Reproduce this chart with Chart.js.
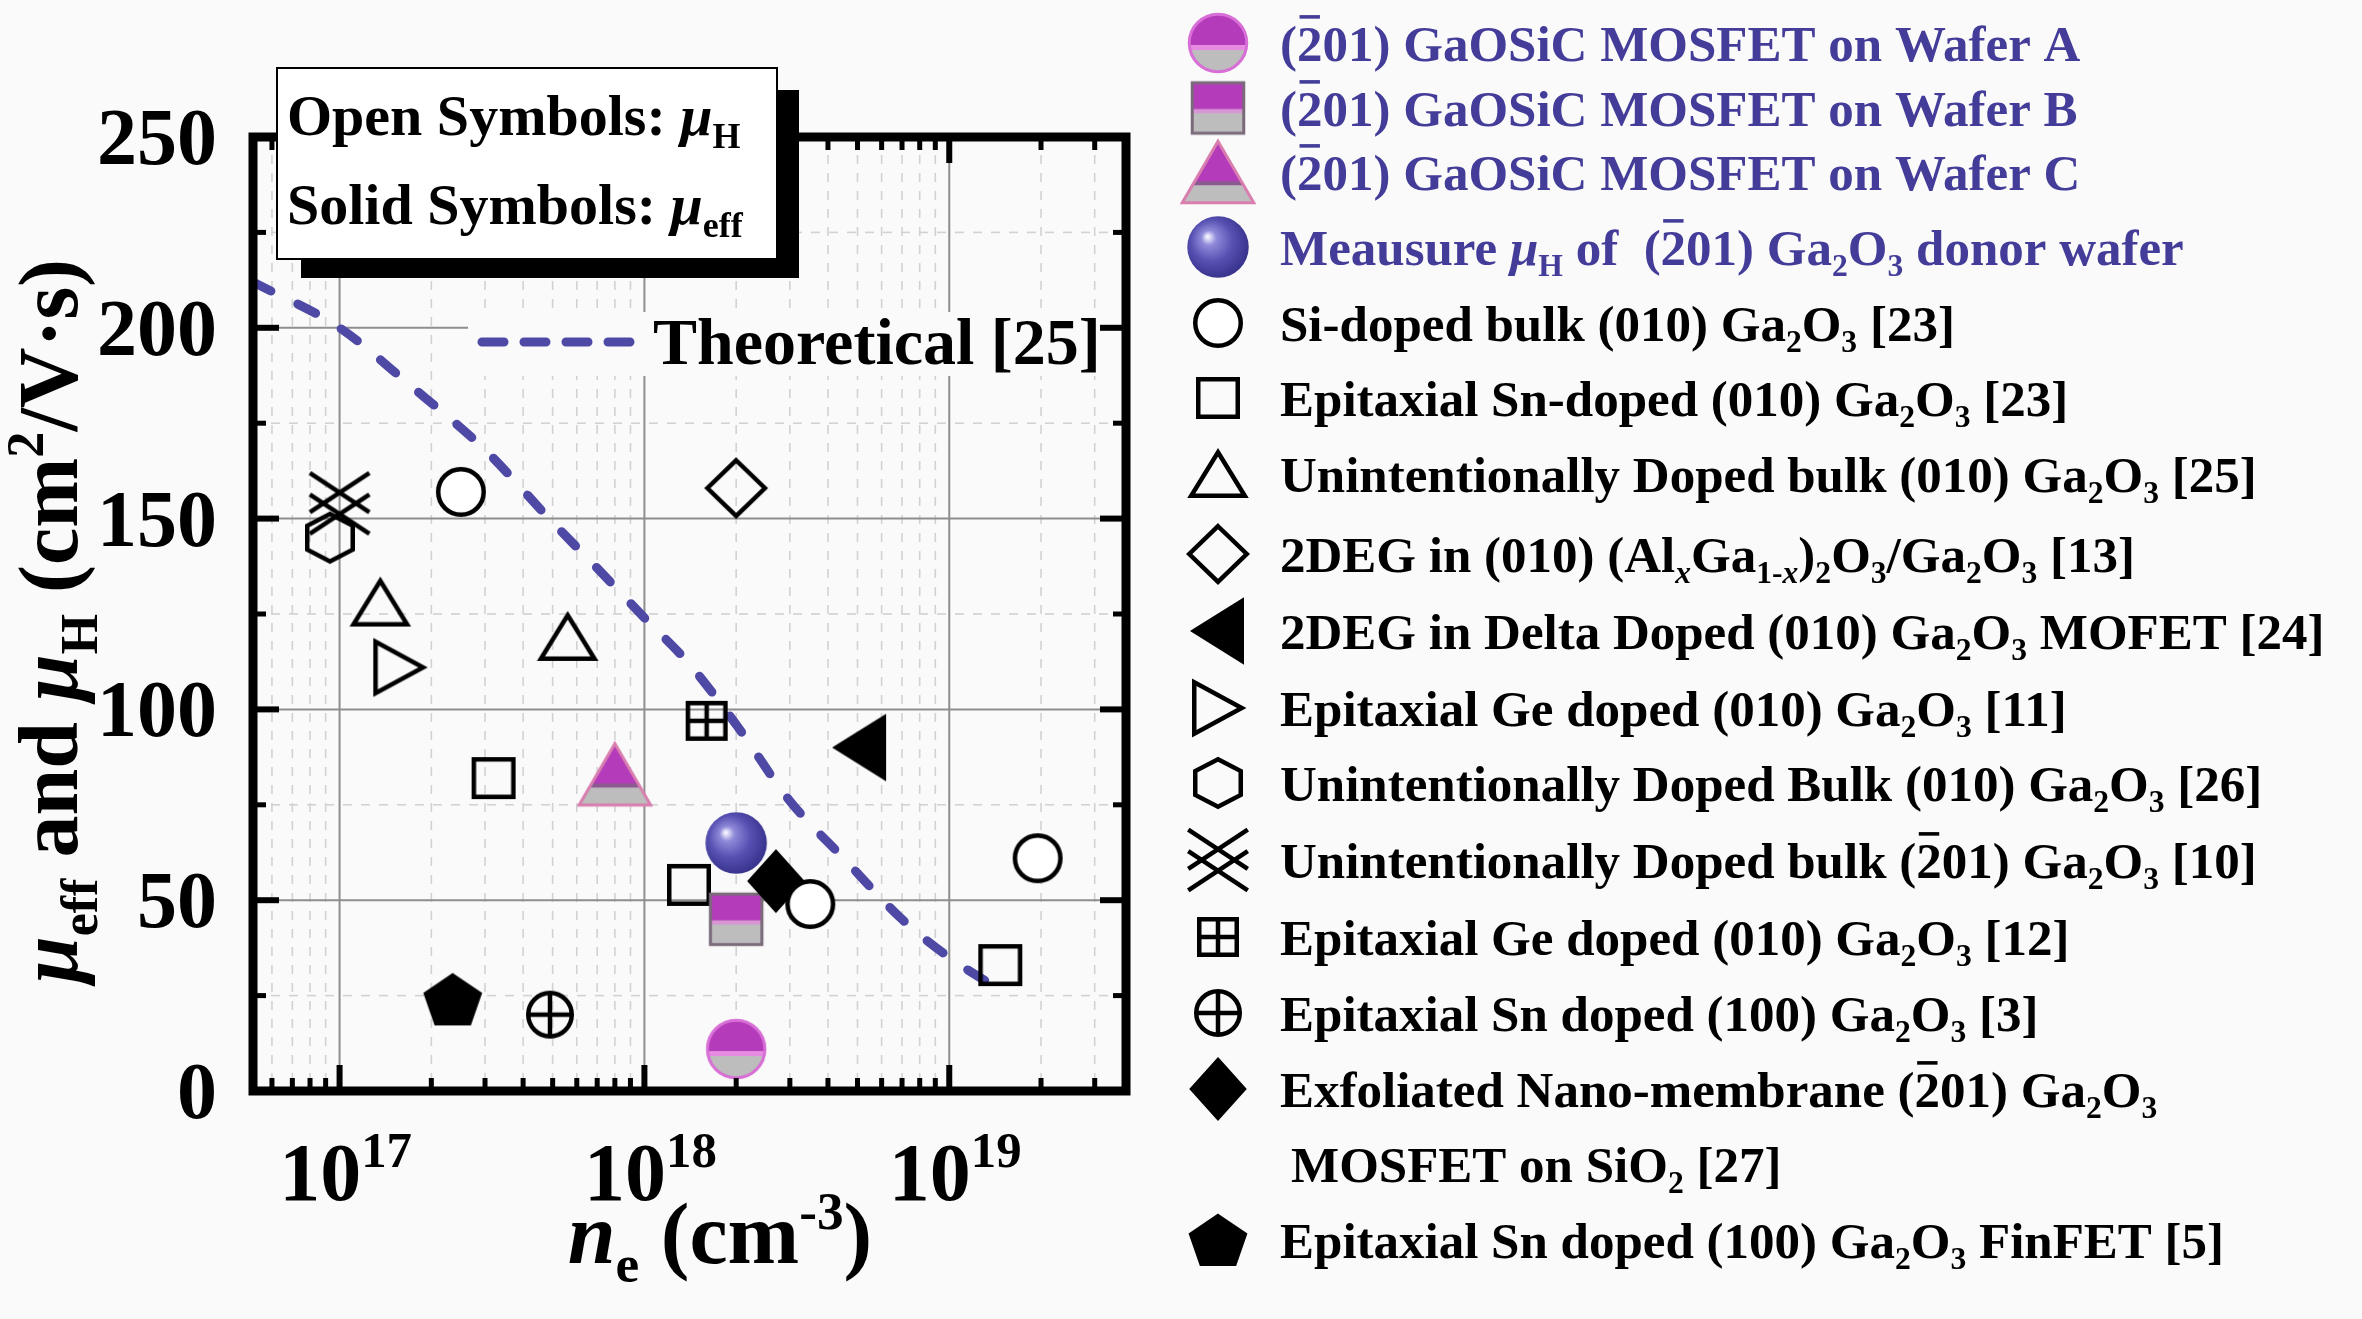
<!DOCTYPE html>
<html>
<head>
<meta charset="utf-8">
<script src="https://cdn.jsdelivr.net/npm/chart.js@4.4.1/dist/chart.umd.min.js"></script>
<style>
  html, body { margin: 0; background: #fafafa; }
  canvas { display: block; }
</style>
</head>
<body>
<canvas id="mobilityChart" width="2362" height="1319"></canvas>
<script>
// ---- data (n_e in cm^-3, mobility in cm^2/V.s) ----
const xTicks = [1e17, 1e18, 1e19];
const xTickExp = ['17', '18', '19'];
const yTicks = [0, 50, 100, 150, 200, 250];

const theoryN  = [5.2e16, 1e17, 1.7e17, 3e17, 5e17, 7e17, 1e18, 1.4e18, 2e18, 3e18, 4.5e18, 7e18, 1e19, 1.5e19];
const theoryMu = [212, 200, 185, 168, 149, 137, 124, 112, 96, 76, 61, 45, 35, 26];

const waferAN = [2.0e18],  waferAMu = [11];
const waferBN = [2.0e18],  waferBMu = [45];
const waferCN = [8.0e17],  waferCMu = [83];
const donorN  = [2.0e18],  donorMu  = [65];
const siBulkN = [2.5e17, 3.5e18, 1.95e19], siBulkMu = [157, 49, 61];
const snEpiN  = [3.2e17, 1.4e18, 1.47e19], snEpiMu  = [82, 54, 33];
const uidBulkN = [1.36e17, 5.6e17], uidBulkMu = [128, 119];
const twoDegN = [2.0e18],  twoDegMu = [158];
const deltaN  = [5.1e18],  deltaMu  = [90];
const geEpiN  = [1.57e17], geEpiMu  = [111];
const uid26N  = [9.3e16],  uid26Mu  = [145];
const uid201N = [1.0e17],  uid201Mu = [154];
const ge12N   = [1.6e18],  ge12Mu   = [97];
const sn100N  = [4.9e17],  sn100Mu  = [20];
const nanoN   = [2.7e18],  nanoMu   = [55];
const finN    = [2.35e17], finMu    = [24];

// legend text, as [text, flags] pieces: i italic, b subscript, p superscript, o overbar
const GA2O3 = [['Ga'], ['2', 'b'], ['O'], ['3', 'b']];
const BAR201 = [['('], ['2', 'o'], ['01)']];
const legendLabels = [
  [...BAR201, [' GaOSiC MOSFET on Wafer A']],
  [...BAR201, [' GaOSiC MOSFET on Wafer B']],
  [...BAR201, [' GaOSiC MOSFET on Wafer C']],
  [['Meausure '], ['\u03bc', 'i'], ['H', 'b'], [' of  '], ...BAR201, [' '], ...GA2O3, [' donor wafer']],
  [['Si-doped bulk (010) '], ...GA2O3, [' [23]']],
  [['Epitaxial Sn-doped (010) '], ...GA2O3, [' [23]']],
  [['Unintentionally Doped bulk (010) '], ...GA2O3, [' [25]']],
  [['2DEG in (010) (Al'], ['x', 'bi'], ['Ga'], ['1-', 'b'], ['x', 'bi'], [')'], ['2', 'b'], ['O'], ['3', 'b'], ['/'], ...GA2O3, [' [13]']],
  [['2DEG in Delta Doped (010) '], ...GA2O3, [' MOFET [24]']],
  [['Epitaxial Ge doped (010) '], ...GA2O3, [' [11]']],
  [['Unintentionally Doped Bulk (010) '], ...GA2O3, [' [26]']],
  [['Unintentionally Doped bulk '], ...BAR201, [' '], ...GA2O3, [' [10]']],
  [['Epitaxial Ge doped (010) '], ...GA2O3, [' [12]']],
  [['Epitaxial Sn doped (100) '], ...GA2O3, [' [3]']],
  [['Exfoliated Nano-membrane '], ...BAR201, [' '], ...GA2O3],
  [['MOSFET on SiO'], ['2', 'b'], [' [27]']],
  [['Epitaxial Sn doped (100) '], ...GA2O3, [' FinFET [5]']]
];
const legendMarkers = ['waferA', 'waferB', 'waferC', 'sphere', 'openCircle', 'openSquare', 'openTri',
  'openDiamond', 'leftTri', 'rightTri', 'hexagon', 'doubleX', 'gridSquare', 'circlePlus', 'diamond', null, 'pentagon'];

// ---- drawing helpers ----
const FONT = '"Liberation Serif", "Times New Roman", Times, serif';
const PURPLE = '#433c98';
const BG = '#fafafa';

function fontStr(size, italic) {
  return (italic ? 'italic ' : '') + 'bold ' + size + 'px ' + FONT;
}

function drawRich(ctx, segs, x, y, size, color, align, subDrop = 0.22) {
  const parts = segs.map(([t, f = '']) => {
    const small = f.includes('b') || f.includes('p');
    const s = small ? size * 0.62 : size;
    ctx.font = fontStr(s, f.includes('i'));
    return { t, f, s, w: ctx.measureText(t).width };
  });
  const total = parts.reduce((a, p) => a + p.w, 0);
  let cx = align === 'center' ? x - total / 2 : align === 'right' ? x - total : x;
  ctx.fillStyle = color;
  ctx.textAlign = 'left';
  ctx.textBaseline = 'alphabetic';
  parts.forEach(p => {
    ctx.font = fontStr(p.s, p.f.includes('i'));
    let dy = 0;
    if (p.f.includes('b')) dy = size * subDrop;
    if (p.f.includes('p')) dy = -size * 0.4;
    ctx.fillText(p.t, cx, y + dy);
    if (p.f.includes('o')) ctx.fillRect(cx + p.w * 0.1, y - size * 0.9, p.w * 0.8, size * 0.07);
    cx += p.w;
  });
  return total;
}

const LW = 4.5;
function canvasFor(w, h, fn) {
  const c = document.createElement('canvas');
  c.width = Math.ceil(w) + 24;
  c.height = Math.ceil(h) + 24;
  const g = c.getContext('2d');
  g.translate(c.width / 2, c.height / 2);
  g.lineWidth = LW;
  g.strokeStyle = '#000';
  g.fillStyle = '#000';
  g.lineJoin = 'miter';
  fn(g, (w - LW) / 2, (h - LW) / 2);
  return c;
}
function poly(g, pts) {
  g.beginPath();
  pts.forEach(([px, py], i) => i ? g.lineTo(px, py) : g.moveTo(px, py));
  g.closePath();
}
const MAGENTA = '#b43cba', GREY = '#bdbdbd';

const markers = {
  openCircle: canvasFor(50, 50, (g, a) => {
    g.beginPath(); g.arc(0, 0, a, 0, Math.PI * 2);
    g.fillStyle = '#fff'; g.fill(); g.stroke();
  }),
  openSquare: canvasFor(44, 42, (g, a, b) => g.strokeRect(-a, -b, 2 * a, 2 * b)),
  openTri: canvasFor(58, 48, (g, a, b) => { poly(g, [[0, -b], [a, b], [-a, b]]); g.stroke(); }),
  openDiamond: canvasFor(62, 60, (g, a, b) => { poly(g, [[0, -b], [a, 0], [0, b], [-a, 0]]); g.stroke(); }),
  leftTri: canvasFor(52, 64, (g, a, b) => { poly(g, [[-a, 0], [a, -b], [a, b]]); g.fill(); g.stroke(); }),
  rightTri: canvasFor(52, 56, (g, a, b) => { poly(g, [[a, 0], [-a, -b], [-a, b]]); g.stroke(); }),
  hexagon: canvasFor(50, 52, (g, a, b) => {
    poly(g, [[0, -b], [a, -b / 2], [a, b / 2], [0, b], [-a, b / 2], [-a, -b / 2]]); g.stroke();
  }),
  doubleX: canvasFor(64, 64, (g, a, b) => {
    [-b * 0.36, b * 0.36].forEach(c => {
      g.beginPath();
      g.moveTo(-a, c - b * 0.66); g.lineTo(a, c + b * 0.66);
      g.moveTo(a, c - b * 0.66); g.lineTo(-a, c + b * 0.66);
      g.stroke();
    });
  }),
  gridSquare: canvasFor(42, 40, (g, a, b) => {
    g.strokeRect(-a, -b, 2 * a, 2 * b);
    g.beginPath(); g.moveTo(0, -b); g.lineTo(0, b); g.moveTo(-a, 0); g.lineTo(a, 0); g.stroke();
  }),
  circlePlus: canvasFor(48, 48, (g, a) => {
    g.beginPath(); g.arc(0, 0, a, 0, Math.PI * 2); g.stroke();
    g.beginPath(); g.moveTo(0, -a); g.lineTo(0, a); g.moveTo(-a, 0); g.lineTo(a, 0); g.stroke();
  }),
  diamond: canvasFor(56, 62, (g, a, b) => { poly(g, [[0, -b], [a, 0], [0, b], [-a, 0]]); g.fill(); g.stroke(); }),
  pentagon: canvasFor(58, 52, (g, a, b) => {
    const pts = [];
    for (let k = 0; k < 5; k++) {
      const t = -Math.PI / 2 + k * 2 * Math.PI / 5;
      pts.push([Math.cos(t) * a / 0.951, (Math.sin(t) + 0.095) * b / 0.905]);
    }
    poly(g, pts); g.fill(); g.stroke();
  }),
  sphere: canvasFor(64, 64, (g, a) => {
    const gr = g.createRadialGradient(-a * 0.35, -a * 0.35, 1, -a * 0.1, -a * 0.1, a * 1.25);
    gr.addColorStop(0, '#f2f2ff');
    gr.addColorStop(0.18, '#8f8ad9');
    gr.addColorStop(0.55, '#5650b2');
    gr.addColorStop(1, '#332e86');
    g.beginPath(); g.arc(0, 0, a + 1, 0, Math.PI * 2); g.fillStyle = gr; g.fill();
  }),
  waferA: canvasFor(62, 62, (g, a) => {
    g.save();
    g.beginPath(); g.arc(0, 0, a, 0, Math.PI * 2); g.clip();
    g.fillStyle = GREY; g.fillRect(-a, 0, 2 * a, a);
    g.fillStyle = MAGENTA; g.fillRect(-a, -a, 2 * a, a + 2);
    g.fillStyle = '#e78be2'; g.fillRect(-a, 2, 2 * a, 5);
    g.restore();
    g.beginPath(); g.arc(0, 0, a, 0, Math.PI * 2);
    g.lineWidth = 3; g.strokeStyle = '#d86fd6'; g.stroke();
  }),
  waferB: canvasFor(56, 55, (g, a, b) => {
    g.fillStyle = GREY; g.fillRect(-a, -b, 2 * a, 2 * b);
    g.fillStyle = MAGENTA; g.fillRect(-a, -b, 2 * a, b * 1.05);
    g.fillStyle = '#d996d6'; g.fillRect(-a, b * 0.05, 2 * a, 4);
    g.lineWidth = 3; g.strokeStyle = '#7a6a7a'; g.strokeRect(-a, -b, 2 * a, 2 * b);
  }),
  waferC: canvasFor(76, 66, (g, a, b) => {
    g.save();
    poly(g, [[0, -b], [a, b], [-a, b]]); g.clip();
    g.fillStyle = MAGENTA; g.fillRect(-a, -b, 2 * a, 2 * b);
    g.fillStyle = '#8b5a8e'; g.fillRect(-a, b * 0.3, 2 * a, 4);
    g.fillStyle = GREY; g.fillRect(-a, b * 0.3 + 4, 2 * a, b);
    g.restore();
    poly(g, [[0, -b], [a, b], [-a, b]]);
    g.lineWidth = 3; g.strokeStyle = '#d97fb0'; g.stroke();
  })
};

function pts(xs, ys) { return xs.map((v, i) => ({ x: v, y: ys[i] })); }
function scatterSet(label, xs, ys, marker) {
  return { label, data: pts(xs, ys), pointStyle: markers[marker], pointRadius: 10, pointHoverRadius: 10 };
}

// first dataset is drawn on top
const datasets = [
  scatterSet('Si-doped bulk', siBulkN, siBulkMu, 'openCircle'),
  scatterSet('Exfoliated nano-membrane', nanoN, nanoMu, 'diamond'),
  scatterSet('Donor wafer', donorN, donorMu, 'sphere'),
  scatterSet('Wafer B', waferBN, waferBMu, 'waferB'),
  scatterSet('Wafer A', waferAN, waferAMu, 'waferA'),
  scatterSet('Wafer C', waferCN, waferCMu, 'waferC'),
  scatterSet('Epitaxial Sn-doped', snEpiN, snEpiMu, 'openSquare'),
  scatterSet('UID bulk (010) [25]', uidBulkN, uidBulkMu, 'openTri'),
  scatterSet('2DEG AlGaO', twoDegN, twoDegMu, 'openDiamond'),
  scatterSet('Delta doped', deltaN, deltaMu, 'leftTri'),
  scatterSet('Epitaxial Ge [11]', geEpiN, geEpiMu, 'rightTri'),
  scatterSet('UID bulk (201)', uid201N, uid201Mu, 'doubleX'),
  scatterSet('UID bulk (010) [26]', uid26N, uid26Mu, 'hexagon'),
  scatterSet('Epitaxial Ge [12]', ge12N, ge12Mu, 'gridSquare'),
  scatterSet('Epitaxial Sn (100)', sn100N, sn100Mu, 'circlePlus'),
  scatterSet('FinFET', finN, finMu, 'pentagon'),
  {
    type: 'line', label: 'Theoretical [25]', data: pts(theoryN, theoryMu),
    borderColor: '#4f49a6', borderWidth: 9, borderDash: [20, 30], borderCapStyle: 'round',
    pointRadius: 0, fill: false, cubicInterpolationMode: 'monotone'
  }
];

function hLine(ctx, x1, y1, x2, y2) { ctx.beginPath(); ctx.moveTo(x1, y1); ctx.lineTo(x2, y2); ctx.stroke(); }

function minorXValues(scale) {
  const out = [];
  for (let d = 16; d <= 19; d++) {
    for (let k = 2; k <= 9; k++) {
      const v = k * Math.pow(10, d);
      if (v > scale.min && v < scale.max) out.push(v);
    }
  }
  return out;
}

const framePlugin = {
  id: 'frame',
  beforeDraw(chart) {
    const ctx = chart.ctx;
    ctx.save();
    ctx.fillStyle = BG;
    ctx.fillRect(0, 0, chart.width, chart.height);
    ctx.restore();
  },
  beforeDatasetsDraw(chart) {
    const { ctx, chartArea: a, scales: { x, y } } = chart;
    ctx.save();
    // minor dashed grid
    ctx.strokeStyle = '#d2d2d2'; ctx.lineWidth = 1.6; ctx.setLineDash([9, 9]);
    minorXValues(x).forEach(v => { const px = x.getPixelForValue(v); hLine(ctx, px, a.top, px, a.bottom); });
    for (let v = 25; v < 250; v += 50) { const py = y.getPixelForValue(v); hLine(ctx, a.left, py, a.right, py); }
    // major grid
    ctx.setLineDash([]); ctx.strokeStyle = '#8e8e8e'; ctx.lineWidth = 2;
    xTicks.forEach(v => { const px = x.getPixelForValue(v); hLine(ctx, px, a.top, px, a.bottom); });
    yTicks.forEach(v => { const py = y.getPixelForValue(v); hLine(ctx, a.left, py, a.right, py); });
    // box behind the "Theoretical" key
    ctx.fillStyle = BG;
    ctx.fillRect(468, 312, 640, 64);
    ctx.restore();
  },
  afterDatasetsDraw(chart) {
    const { ctx, chartArea: a, scales: { x, y } } = chart;
    ctx.save();
    // frame + ticks
    ctx.strokeStyle = '#000'; ctx.lineJoin = 'miter';
    ctx.lineWidth = 6;
    const majLen = 26, minLen = 13;
    xTicks.forEach(v => {
      const px = x.getPixelForValue(v);
      hLine(ctx, px, a.bottom, px, a.bottom - majLen); hLine(ctx, px, a.top, px, a.top + majLen);
    });
    yTicks.forEach(v => {
      const py = y.getPixelForValue(v);
      hLine(ctx, a.left, py, a.left + majLen, py); hLine(ctx, a.right, py, a.right - majLen, py);
    });
    ctx.lineWidth = 5;
    minorXValues(x).forEach(v => {
      const px = x.getPixelForValue(v);
      hLine(ctx, px, a.bottom, px, a.bottom - minLen); hLine(ctx, px, a.top, px, a.top + minLen);
    });
    for (let v = 25; v < 250; v += 50) {
      const py = y.getPixelForValue(v);
      hLine(ctx, a.left, py, a.left + minLen, py); hLine(ctx, a.right, py, a.right - minLen, py);
    }
    ctx.lineWidth = 9;
    ctx.strokeRect(a.left, a.top, a.right - a.left, a.bottom - a.top);

    // tick labels
    ctx.fillStyle = '#000';
    ctx.font = fontStr(80, false);
    ctx.textAlign = 'right';
    ctx.textBaseline = 'alphabetic';
    yTicks.forEach(v => ctx.fillText(String(v), 217, y.getPixelForValue(v) + 27));
    xTicks.forEach((v, i) => drawRich(ctx, [['10'], [xTickExp[i], 'p']], x.getPixelForValue(v) + 6, 1200, 82, '#000', 'center'));

    // axis titles
    drawRich(ctx, [['n', 'i'], ['e', 'b'], [' (cm'], ['-3', 'p'], [')']], 720, 1263, 86, '#000', 'center');
    ctx.save();
    ctx.translate(77, 621);
    ctx.rotate(-Math.PI / 2);
    drawRich(ctx, [['\u03bc', 'i'], ['eff', 'b'], [' and '], ['\u03bc', 'i'], ['H', 'b'], [' (cm'], ['2', 'p'], ['/V\u00b7s)']], 0, 0, 84, '#000', 'center', 0.24);
    ctx.restore();

    // theoretical key
    ctx.save();
    ctx.strokeStyle = '#4f49a6'; ctx.lineWidth = 9; ctx.lineCap = 'round'; ctx.setLineDash([22, 20]);
    hLine(ctx, 482, 342, 636, 342);
    ctx.restore();
    drawRich(ctx, [['Theoretical [25]']], 653, 364, 66, '#000', 'left');

    // symbol key box
    ctx.fillStyle = '#000';
    ctx.fillRect(301, 90, 498, 188);
    ctx.fillStyle = '#fff';
    ctx.fillRect(277, 68, 500, 191);
    ctx.lineWidth = 2; ctx.strokeStyle = '#000';
    ctx.strokeRect(277, 68, 500, 191);
    drawRich(ctx, [['Open Symbols: '], ['\u03bc', 'i'], ['H', 'b']], 287, 135, 58, '#000', 'left');
    drawRich(ctx, [['Solid Symbols: '], ['\u03bc', 'i'], ['eff', 'b']], 287, 224, 58, '#000', 'left');

    // right-hand legend
    const rowY = [43, 108, 172, 247, 323, 398, 474, 554, 631, 708, 783, 860, 937, 1013, 1089, 1164, 1240];
    legendLabels.forEach((segs, i) => {
      const cy = rowY[i];
      const m = legendMarkers[i];
      if (m) {
        const c = markers[m];
        ctx.drawImage(c, 1218 - c.width / 2, cy - c.height / 2);
      }
      drawRich(ctx, segs, m ? 1280 : 1291, cy + 18, 51, i < 4 ? PURPLE : '#000', 'left');
    });
    ctx.restore();
  }
};

new Chart(document.getElementById('mobilityChart'), {
  type: 'scatter',
  data: { datasets },
  options: {
    responsive: false,
    animation: false,
    devicePixelRatio: 1,
    layout: { padding: { left: 253, right: 1236, top: 137, bottom: 228 } },
    plugins: { legend: { display: false }, tooltip: { enabled: false } },
    scales: {
      x: { type: 'logarithmic', min: 5.2e16, max: 3.8e19, display: false },
      y: { type: 'linear', min: 0, max: 250, display: false }
    }
  },
  plugins: [framePlugin]
});
</script>
</body>
</html>
